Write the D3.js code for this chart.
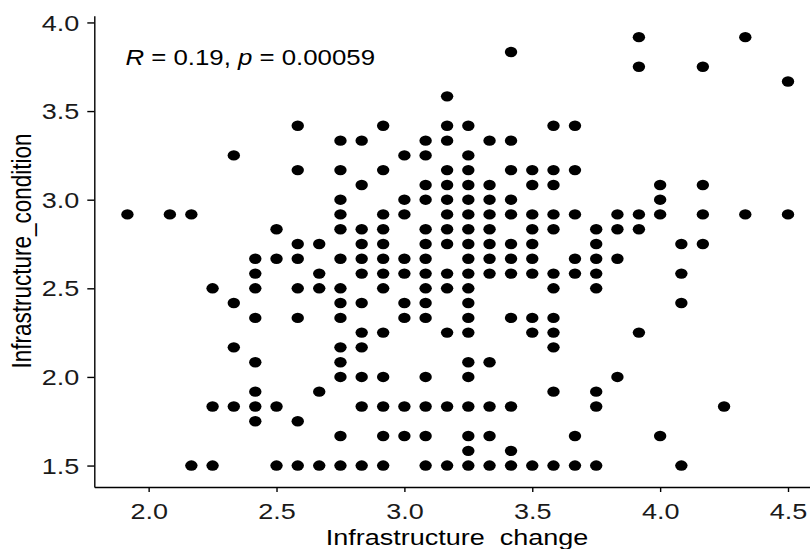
<!DOCTYPE html>
<html>
<head>
<meta charset="utf-8">
<script src="https://cdn.jsdelivr.net/npm/d3@7/dist/d3.min.js"></script>
<style>
  body { margin: 0; background: #fff; }
  svg { display: block; }
  text { font-family: "Liberation Sans", Arial, sans-serif; }
</style>
</head>
<body>
<svg id="chart" width="810" height="549"></svg>
<script>
// ======================
// Dades: nivells de Y i valors de X a cada nivell
// ======================
const yLevels = [
  3.917, 3.833, 3.750, 3.667, 3.583, 3.417, 3.333, 3.250, 3.167, 3.083,
  3.000, 2.917, 2.833, 2.750, 2.667, 2.583, 2.500, 2.417, 2.333, 2.250,
  2.167, 2.083, 2.000, 1.917, 1.833, 1.750, 1.667, 1.583, 1.500
];

const xAtLevel = [
  [3.917, 4.333],
  [3.417],
  [3.917, 4.167],
  [4.500],
  [3.167],
  [2.583, 2.917, 3.167, 3.250, 3.583, 3.667],
  [2.750, 2.833, 3.083, 3.167, 3.333, 3.417],
  [2.333, 3.000, 3.083, 3.250],
  [2.583, 2.750, 2.917, 3.167, 3.250, 3.417, 3.500, 3.583, 3.667],
  [2.833, 3.083, 3.167, 3.250, 3.333, 3.500, 3.583, 4.000, 4.167],
  [2.750, 3.000, 3.083, 3.167, 3.250, 3.333, 3.417, 4.000],
  [1.917, 2.083, 2.167, 2.750, 2.917, 3.000, 3.167, 3.250, 3.333, 3.417, 3.500, 3.583, 3.667, 3.833, 3.917, 4.000, 4.167, 4.333, 4.500],
  [2.500, 2.750, 2.833, 2.917, 3.083, 3.167, 3.250, 3.333, 3.500, 3.583, 3.750, 3.833, 3.917],
  [2.583, 2.667, 2.833, 2.917, 3.083, 3.167, 3.250, 3.333, 3.417, 3.500, 3.750, 4.083, 4.167],
  [2.417, 2.500, 2.583, 2.750, 2.833, 2.917, 3.000, 3.083, 3.250, 3.333, 3.417, 3.500, 3.667, 3.750, 3.833],
  [2.417, 2.667, 2.833, 2.917, 3.000, 3.083, 3.167, 3.250, 3.333, 3.417, 3.500, 3.583, 3.667, 3.750, 4.083],
  [2.250, 2.417, 2.583, 2.667, 2.750, 2.917, 3.083, 3.167, 3.250, 3.583, 3.750],
  [2.333, 2.750, 2.833, 3.000, 3.083, 3.250, 4.083],
  [2.417, 2.583, 2.750, 3.000, 3.083, 3.250, 3.417, 3.500, 3.583],
  [2.833, 2.917, 3.167, 3.250, 3.500, 3.583, 3.917],
  [2.333, 2.750, 2.833, 3.583],
  [2.417, 2.750, 3.250, 3.333],
  [2.750, 2.833, 2.917, 3.083, 3.250, 3.833],
  [2.417, 2.667, 3.583, 3.750],
  [2.250, 2.333, 2.417, 2.500, 2.833, 2.917, 3.000, 3.083, 3.167, 3.250, 3.333, 3.417, 3.750, 4.250],
  [2.417, 2.583],
  [2.750, 2.917, 3.000, 3.083, 3.250, 3.333, 3.667, 4.000],
  [3.250, 3.417],
  [2.167, 2.250, 2.500, 2.583, 2.667, 2.750, 2.833, 2.917, 3.083, 3.167, 3.250, 3.333, 3.417, 3.500, 3.583, 3.667, 3.750, 4.083]
];

const xTicks = [2.0, 2.5, 3.0, 3.5, 4.0, 4.5];
const yTicks = [1.5, 2.0, 2.5, 3.0, 3.5, 4.0];

const xTitle = "Infrastructure  change";
const yTitle = "Infrastructure_condition";
const statR = "0.19";
const statP = "0.00059";

const points = [];
yLevels.forEach((y, i) => {
  xAtLevel[i].forEach(x => points.push({ x, y }));
});

// ======================
// Escales i dibuix
// ======================
const svg = d3.select("#chart");
const sx = 1.2;          // la imatge original està estirada en horitzontal
const fontSize = 22.5;

const x = d3.scaleLinear().domain([1.7875, 4.629]).range([94.3, 821]);
const y = d3.scaleLinear().domain([1.379, 4.0375]).range([487, 15.8]);

// punts
svg.append("g")
  .selectAll("ellipse")
  .data(points)
  .enter()
  .append("ellipse")
  .attr("cx", d => x(d.x))
  .attr("cy", d => y(d.y))
  .attr("rx", 6.2)
  .attr("ry", 5.2)
  .attr("fill", "#000");

// eix X
const xAxis = svg.append("g")
  .attr("transform", `translate(0, ${y.range()[0]})`)
  .call(d3.axisBottom(x)
    .tickValues(xTicks)
    .tickFormat(d3.format(".1f"))
    .tickSize(5)
    .tickPadding(11)
    .tickSizeOuter(0));

// eix Y
const yAxis = svg.append("g")
  .attr("transform", `translate(${x.range()[0]}, 0)`)
  .call(d3.axisLeft(y)
    .tickValues(yTicks)
    .tickFormat(d3.format(".1f"))
    .tickSize(7)
    .tickPadding(5.5)
    .tickSizeOuter(0));

[xAxis, yAxis].forEach(g => {
  g.select(".domain").attr("stroke", "#000").attr("stroke-width", 1.4);
  g.selectAll(".tick line").attr("stroke", "#000").attr("stroke-width", 1.4);
  g.selectAll(".tick text")
    .style("font-size", fontSize + "px")
    .attr("fill", "#1a1a1a")
    .attr("transform", `scale(${sx},1)`);
});

yAxis.selectAll(".tick text").attr("dy", "0.34em");

// títols dels eixos
svg.append("text")
  .attr("transform", `translate(457, 545) scale(${sx},1)`)
  .attr("text-anchor", "middle")
  .style("font-size", fontSize + "px")
  .style("white-space", "pre")
  .attr("fill", "#000")
  .text(xTitle);

svg.append("text")
  .attr("transform", `translate(22, 251) scale(${sx},1) rotate(-90)`)
  .attr("text-anchor", "middle")
  .attr("dy", "0.35em")
  .style("font-size", fontSize + "px")
  .attr("fill", "#000")
  .text(yTitle);

// estadístic de correlació
const stat = svg.append("text")
  .attr("transform", `translate(125.5, 64.5) scale(${sx},1)`)
  .style("font-size", "21.5px")
  .attr("fill", "#000");

stat.append("tspan").style("font-style", "italic").text("R");
stat.append("tspan").text(` = ${statR}, `);
stat.append("tspan").style("font-style", "italic").text("p");
stat.append("tspan").text(` = ${statP}`);
</script>
</body>
</html>
